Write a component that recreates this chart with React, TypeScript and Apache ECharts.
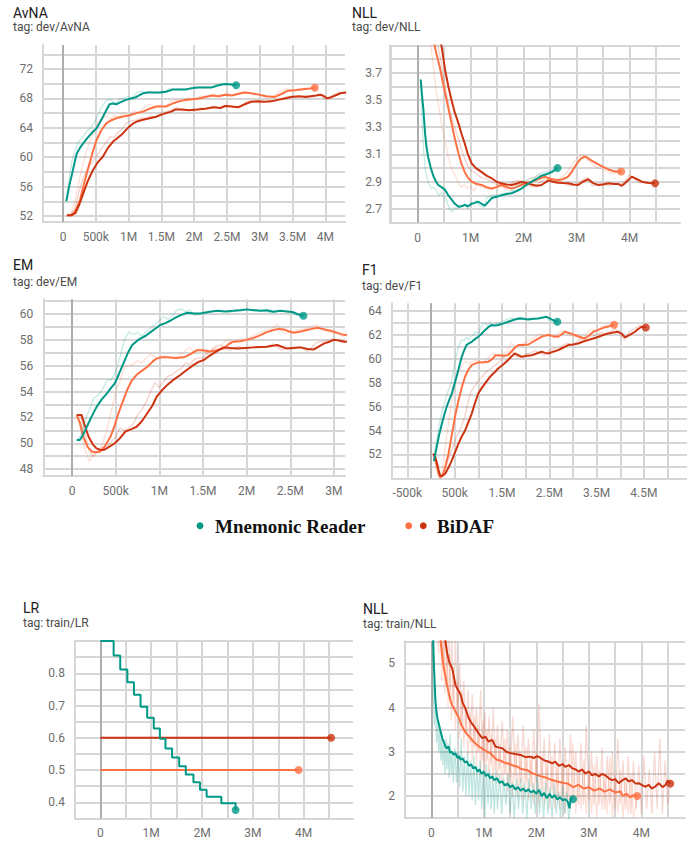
import React, { useEffect, useRef } from 'react';
import * as echarts from 'echarts';

const C_TEAL = '#009988';
const C_ORANGE = '#ff7043';
const C_RED = '#cc3311';

// ---------- AvNA (dev) ----------
const avnaTealSmooth = [[0.05,54.0],[0.1,56.3],[0.14,57.8],[0.18,59.4],[0.21,60.5],[0.26,61.3],[0.31,61.9],[0.36,62.5],[0.41,63.0],[0.46,63.5],[0.51,63.9],[0.56,64.7],[0.61,65.5],[0.66,66.4],[0.71,67.2],[0.76,67.3],[0.81,67.2],[0.88,67.5],[0.96,67.8],[1.04,68.0],[1.12,68.2],[1.18,68.5],[1.22,68.7],[1.3,68.8],[1.37,68.8],[1.47,68.8],[1.57,68.9],[1.67,69.2],[1.77,69.2],[1.87,69.2],[1.97,69.4],[2.07,69.5],[2.17,69.5],[2.27,69.5],[2.37,69.8],[2.47,69.95],[2.56,69.9],[2.64,69.8]];
const avnaTealRaw = [[0.05,54.0],[0.1,57.6],[0.14,59.6],[0.18,60.8],[0.22,61.8],[0.27,62.5],[0.32,63.0],[0.37,63.6],[0.42,64.0],[0.47,64.6],[0.52,65.5],[0.57,66.5],[0.62,67.2],[0.67,67.8],[0.72,67.9],[0.77,67.5],[0.82,67.4],[0.87,68.0],[0.93,67.9],[0.99,68.3],[1.05,68.0],[1.1,68.6],[1.15,68.9],[1.2,69.0],[1.26,68.8],[1.32,69.0],[1.4,68.7],[1.48,68.9],[1.56,69.0],[1.64,69.4],[1.72,69.2],[1.8,69.3],[1.9,69.2],[2.0,69.6],[2.1,69.5],[2.2,69.6],[2.3,69.5],[2.4,70.0],[2.5,70.0],[2.58,69.9],[2.64,69.8]];
const avnaOrangeSmooth = [[0.06,52.1],[0.14,52.1],[0.2,52.9],[0.26,54.2],[0.32,56.4],[0.39,58.7],[0.45,60.6],[0.51,62.3],[0.58,63.6],[0.66,64.6],[0.73,65.0],[0.81,65.3],[0.9,65.5],[1.02,65.7],[1.12,66.0],[1.22,66.2],[1.32,66.6],[1.42,66.9],[1.5,66.9],[1.57,66.9],[1.67,67.3],[1.77,67.6],[1.87,67.8],[1.97,67.9],[2.07,68.0],[2.17,68.2],[2.27,68.4],[2.37,68.3],[2.47,68.5],[2.57,68.4],[2.67,68.6],[2.77,68.8],[2.87,68.7],[2.97,68.55],[3.1,68.3],[3.23,68.2],[3.33,68.6],[3.43,69.05],[3.53,69.1],[3.63,69.2],[3.73,69.3],[3.84,69.46]];
const avnaOrangeRaw = [[0.06,52.1],[0.12,52.3],[0.18,54.0],[0.24,56.5],[0.3,59.0],[0.36,60.8],[0.42,62.6],[0.48,63.5],[0.54,64.8],[0.6,65.2],[0.66,65.6],[0.72,65.2],[0.78,65.7],[0.85,65.5],[0.92,66.0],[1.0,65.6],[1.08,66.3],[1.16,66.1],[1.24,66.8],[1.32,67.2],[1.4,66.8],[1.48,67.1],[1.56,66.8],[1.64,67.6],[1.72,67.8],[1.8,67.7],[1.9,68.1],[2.0,67.9],[2.1,68.3],[2.2,68.3],[2.3,68.6],[2.4,68.2],[2.5,68.7],[2.6,68.4],[2.7,68.9],[2.8,68.9],[2.9,68.5],[3.0,68.5],[3.1,68.1],[3.2,68.3],[3.3,68.9],[3.4,69.3],[3.5,69.0],[3.6,69.3],[3.7,69.4],[3.84,69.5]];
const avnaRedSmooth = [[0.06,52.1],[0.12,52.1],[0.19,52.4],[0.25,53.6],[0.31,55.1],[0.38,56.8],[0.46,58.3],[0.53,59.3],[0.61,60.1],[0.68,61.2],[0.76,62.1],[0.83,62.6],[0.91,63.2],[0.99,64.0],[1.07,64.6],[1.14,64.9],[1.22,65.1],[1.32,65.3],[1.42,65.5],[1.5,65.8],[1.57,66.0],[1.65,66.2],[1.72,66.5],[1.82,66.5],[1.92,66.4],[2.05,66.5],[2.17,66.6],[2.3,66.8],[2.4,66.7],[2.47,66.97],[2.57,66.9],[2.67,66.8],[2.77,67.2],[2.87,67.55],[2.97,67.6],[3.08,67.55],[3.18,67.6],[3.28,67.8],[3.38,68.0],[3.48,68.2],[3.6,68.3],[3.7,68.2],[3.78,68.3],[3.86,68.4],[3.93,68.5],[3.98,68.3],[4.03,68.0],[4.1,68.2],[4.18,68.5],[4.23,68.7],[4.3,68.8],[4.4,68.9],[4.5,69.0]];
const avnaRedRaw = [[0.06,52.1],[0.12,52.2],[0.18,53.0],[0.24,55.2],[0.3,57.0],[0.36,58.2],[0.42,59.0],[0.48,59.8],[0.54,60.5],[0.6,61.4],[0.66,62.0],[0.72,62.8],[0.78,62.7],[0.84,63.4],[0.9,63.8],[0.96,64.6],[1.02,64.9],[1.1,65.0],[1.18,65.3],[1.26,65.3],[1.34,65.6],[1.42,65.4],[1.5,66.1],[1.58,66.2],[1.66,66.5],[1.74,66.8],[1.82,66.3],[1.9,66.5],[2.0,66.3],[2.1,66.7],[2.2,66.6],[2.3,67.0],[2.4,66.6],[2.5,67.1],[2.6,66.8],[2.7,66.9],[2.8,67.6],[2.9,67.7],[3.0,67.4],[3.1,67.6],[3.2,67.7],[3.3,67.9],[3.4,68.2],[3.5,68.3],[3.6,68.2],[3.7,68.4],[3.8,68.2],[3.9,68.6],[4.0,67.9],[4.1,68.4],[4.2,68.8],[4.3,68.7],[4.4,69.0],[4.5,69.0]];

// ---------- NLL (dev) ----------
const nlldTealSmooth = [[0.06,3.65],[0.08,3.55],[0.11,3.43],[0.14,3.26],[0.17,3.15],[0.2,3.08],[0.25,3.0],[0.3,2.94],[0.35,2.9],[0.39,2.876],[0.45,2.86],[0.52,2.84],[0.58,2.8],[0.64,2.77],[0.7,2.74],[0.77,2.717],[0.83,2.72],[0.89,2.73],[0.95,2.72],[1.02,2.737],[1.08,2.745],[1.14,2.754],[1.2,2.74],[1.27,2.724],[1.33,2.75],[1.4,2.78],[1.49,2.79],[1.58,2.8],[1.68,2.81],[1.77,2.815],[1.86,2.83],[1.96,2.85],[2.05,2.875],[2.15,2.9],[2.24,2.92],[2.34,2.944],[2.43,2.955],[2.53,2.97],[2.6,2.99],[2.64,3.0]];
const nlldTealRaw = [[0.06,3.65],[0.09,3.3],[0.12,3.1],[0.15,2.98],[0.18,2.92],[0.22,2.88],[0.26,2.85],[0.3,2.86],[0.35,2.84],[0.4,2.8],[0.45,2.82],[0.5,2.79],[0.55,2.76],[0.6,2.7],[0.65,2.68],[0.7,2.71],[0.75,2.7],[0.8,2.73],[0.85,2.72],[0.9,2.74],[0.95,2.7],[1.0,2.75],[1.05,2.74],[1.1,2.76],[1.15,2.73],[1.2,2.72],[1.25,2.71],[1.3,2.78],[1.35,2.79],[1.4,2.8],[1.5,2.8],[1.6,2.81],[1.7,2.82],[1.8,2.84],[1.9,2.87],[2.0,2.9],[2.1,2.92],[2.2,2.93],[2.3,2.96],[2.4,2.97],[2.5,2.98],[2.64,3.0]];
const nlldOrangeSmooth = [[0.1,4.8],[0.2,4.3],[0.28,4.0],[0.33,3.88],[0.38,3.8],[0.42,3.74],[0.47,3.64],[0.52,3.55],[0.58,3.44],[0.64,3.33],[0.7,3.22],[0.77,3.11],[0.83,3.03],[0.89,2.97],[0.95,2.93],[1.02,2.9],[1.1,2.885],[1.21,2.876],[1.3,2.86],[1.4,2.85],[1.49,2.86],[1.58,2.876],[1.68,2.86],[1.77,2.85],[1.86,2.86],[1.96,2.876],[2.05,2.89],[2.15,2.9],[2.28,2.92],[2.4,2.937],[2.52,2.92],[2.65,2.91],[2.75,2.92],[2.84,2.937],[2.92,2.98],[3.0,3.03],[3.08,3.07],[3.17,3.085],[3.26,3.06],[3.35,3.04],[3.47,3.015],[3.6,2.99],[3.72,2.975],[3.84,2.975]];
const nlldOrangeRaw = [[0.1,4.6],[0.2,4.1],[0.28,3.8],[0.34,3.6],[0.4,3.45],[0.46,3.3],[0.52,3.2],[0.58,3.08],[0.64,3.0],[0.7,2.95],[0.76,2.9],[0.82,2.86],[0.88,2.88],[0.94,2.85],[1.0,2.87],[1.06,2.83],[1.12,2.88],[1.2,2.86],[1.3,2.85],[1.4,2.84],[1.5,2.88],[1.6,2.86],[1.7,2.84],[1.8,2.87],[1.9,2.88],[2.0,2.89],[2.1,2.92],[2.2,2.93],[2.3,2.95],[2.4,2.93],[2.5,2.9],[2.6,2.91],[2.7,2.93],[2.8,2.96],[2.9,3.02],[3.0,3.07],[3.1,3.1],[3.2,3.06],[3.3,3.03],[3.4,3.0],[3.5,2.99],[3.6,2.97],[3.7,2.96],[3.84,2.975]];
const nlldRedSmooth = [[0.2,5.0],[0.3,4.4],[0.38,4.05],[0.45,3.9],[0.52,3.72],[0.58,3.6],[0.64,3.5],[0.7,3.41],[0.77,3.33],[0.83,3.25],[0.89,3.18],[0.95,3.1],[1.02,3.035],[1.1,3.0],[1.21,2.97],[1.3,2.945],[1.4,2.925],[1.49,2.9],[1.58,2.888],[1.68,2.88],[1.77,2.876],[1.86,2.885],[1.96,2.9],[2.05,2.89],[2.15,2.88],[2.25,2.87],[2.34,2.876],[2.41,2.895],[2.47,2.91],[2.56,2.9],[2.65,2.893],[2.75,2.89],[2.84,2.888],[2.94,2.88],[3.03,2.876],[3.12,2.9],[3.22,2.918],[3.31,2.89],[3.41,2.876],[3.5,2.88],[3.6,2.888],[3.7,2.883],[3.79,2.883],[3.85,2.87],[3.91,2.888],[3.97,2.91],[4.04,2.937],[4.13,2.92],[4.23,2.9],[4.35,2.89],[4.48,2.888]];
const nlldRedRaw = [[0.2,4.8],[0.3,4.2],[0.38,3.9],[0.46,3.75],[0.54,3.55],[0.62,3.4],[0.7,3.3],[0.78,3.2],[0.86,3.1],[0.94,3.02],[1.02,2.98],[1.1,2.96],[1.2,2.93],[1.3,2.92],[1.4,2.9],[1.5,2.88],[1.6,2.88],[1.7,2.86],[1.8,2.9],[1.9,2.91],[2.0,2.88],[2.1,2.87],[2.2,2.86],[2.3,2.89],[2.4,2.92],[2.5,2.9],[2.6,2.89],[2.7,2.9],[2.8,2.88],[2.9,2.87],[3.0,2.88],[3.1,2.91],[3.2,2.93],[3.3,2.87],[3.4,2.88],[3.5,2.89],[3.6,2.87],[3.7,2.89],[3.8,2.88],[3.9,2.9],[4.0,2.95],[4.1,2.92],[4.2,2.89],[4.3,2.9],[4.48,2.888]];

// ---------- EM (dev) ----------
const emTealSmooth = [[0.054,50.25],[0.09,50.25],[0.13,50.7],[0.17,51.28],[0.22,52.0],[0.28,52.8],[0.34,53.4],[0.4,53.86],[0.45,54.3],[0.49,54.63],[0.54,55.4],[0.59,56.2],[0.64,57.0],[0.69,57.6],[0.74,57.9],[0.78,58.1],[0.84,58.3],[0.9,58.6],[0.96,58.9],[1.01,59.15],[1.07,59.3],[1.13,59.5],[1.18,59.7],[1.24,59.9],[1.32,60.1],[1.4,60.05],[1.47,60.05],[1.56,60.15],[1.66,60.25],[1.75,60.2],[1.85,60.25],[1.93,60.3],[2.0,60.36],[2.08,60.3],[2.16,60.25],[2.23,60.3],[2.31,60.18],[2.38,60.25],[2.46,60.2],[2.53,60.15],[2.58,60.0],[2.65,59.87]];
const emTealRaw = [[0.054,50.2],[0.1,50.6],[0.15,51.8],[0.2,52.6],[0.25,53.5],[0.3,53.7],[0.35,54.2],[0.4,54.9],[0.45,54.9],[0.5,55.5],[0.55,56.7],[0.6,58.0],[0.65,58.6],[0.7,58.4],[0.75,58.6],[0.8,58.3],[0.85,58.6],[0.9,58.9],[0.95,59.2],[1.0,59.5],[1.05,59.8],[1.1,59.6],[1.15,59.9],[1.2,60.3],[1.25,60.4],[1.3,60.2],[1.35,60.3],[1.4,59.9],[1.5,60.0],[1.6,60.2],[1.7,60.3],[1.8,60.1],[1.9,60.35],[2.0,60.3],[2.1,60.35],[2.2,60.2],[2.3,60.1],[2.4,60.3],[2.5,60.1],[2.58,59.9],[2.65,59.85]];
const emOrangeSmooth = [[0.054,52.18],[0.09,51.6],[0.13,50.5],[0.18,49.7],[0.23,49.34],[0.28,49.3],[0.32,49.34],[0.38,49.8],[0.44,50.5],[0.49,51.4],[0.53,52.3],[0.58,53.2],[0.63,54.1],[0.68,54.8],[0.74,55.3],[0.8,55.6],[0.86,55.9],[0.92,56.3],[0.97,56.57],[1.03,56.65],[1.09,56.65],[1.18,56.6],[1.28,56.65],[1.36,56.9],[1.43,57.2],[1.5,57.2],[1.58,57.1],[1.66,57.2],[1.74,57.35],[1.8,57.7],[1.85,57.86],[1.93,57.9],[2.0,58.0],[2.08,58.15],[2.16,58.37],[2.23,58.6],[2.31,58.76],[2.37,58.85],[2.43,58.8],[2.49,58.65],[2.54,58.55],[2.62,58.65],[2.69,58.76],[2.75,58.85],[2.81,58.94],[2.87,58.85],[2.92,58.76],[2.97,58.7],[3.0,58.63],[3.06,58.5],[3.12,58.37],[3.3,58.5],[3.5,58.8],[3.7,59.0],[3.84,59.1]];
const emOrangeRaw = [[0.054,52.2],[0.1,51.0],[0.15,49.5],[0.2,48.6],[0.25,49.2],[0.3,49.4],[0.35,50.0],[0.4,51.0],[0.45,52.5],[0.5,54.0],[0.55,54.8],[0.6,55.9],[0.65,56.0],[0.7,56.1],[0.75,56.4],[0.8,56.2],[0.85,56.6],[0.9,56.9],[0.95,56.7],[1.0,56.5],[1.05,56.8],[1.1,56.6],[1.15,56.7],[1.2,56.5],[1.25,56.9],[1.3,57.2],[1.35,57.4],[1.4,57.0],[1.45,57.3],[1.5,57.1],[1.55,56.9],[1.6,57.3],[1.65,57.4],[1.7,57.3],[1.75,57.9],[1.8,58.0],[1.85,57.8],[1.9,58.0],[2.0,58.1],[2.1,58.4],[2.2,58.7],[2.3,58.9],[2.35,59.2],[2.4,58.7],[2.45,58.5],[2.5,58.6],[2.6,58.8],[2.7,58.9],[2.8,59.2],[2.85,58.8],[2.9,58.7],[3.0,58.5],[3.1,58.3],[3.3,58.6],[3.5,58.9],[3.7,59.0],[3.84,59.1]];
const emRedSmooth = [[0.054,52.18],[0.11,52.18],[0.15,51.3],[0.19,50.5],[0.24,49.9],[0.28,49.6],[0.32,49.5],[0.36,49.47],[0.42,49.7],[0.49,50.0],[0.55,50.4],[0.61,50.9],[0.68,51.1],[0.74,51.28],[0.8,51.7],[0.86,52.3],[0.92,52.9],[0.97,53.6],[1.03,54.1],[1.09,54.5],[1.16,54.9],[1.24,55.28],[1.31,55.65],[1.39,56.05],[1.45,56.3],[1.51,56.44],[1.56,56.7],[1.62,56.95],[1.68,57.2],[1.74,57.42],[1.81,57.38],[1.89,57.34],[1.98,57.38],[2.08,57.42],[2.16,57.45],[2.23,57.47],[2.3,57.55],[2.35,57.6],[2.41,57.45],[2.46,57.34],[2.54,57.38],[2.62,57.42],[2.7,57.3],[2.77,57.26],[2.83,57.5],[2.89,57.73],[2.95,57.86],[3.0,58.0],[3.06,57.95],[3.12,57.86],[3.4,58.0],[3.8,58.2],[4.2,58.3],[4.5,58.4]];
const emRedRaw = [[0.054,52.2],[0.1,52.1],[0.15,50.7],[0.2,49.3],[0.25,49.0],[0.3,49.5],[0.35,49.7],[0.4,49.8],[0.45,50.1],[0.5,50.5],[0.55,51.2],[0.6,51.0],[0.65,51.2],[0.7,51.5],[0.75,52.2],[0.8,52.6],[0.85,53.2],[0.9,54.0],[0.95,54.7],[1.0,54.3],[1.05,54.8],[1.1,55.2],[1.15,55.3],[1.2,55.6],[1.25,55.8],[1.3,56.2],[1.35,56.1],[1.4,56.5],[1.45,56.6],[1.5,56.6],[1.55,57.0],[1.6,57.2],[1.65,57.5],[1.7,57.6],[1.75,57.3],[1.8,57.2],[1.9,57.5],[2.0,57.3],[2.1,57.5],[2.2,57.4],[2.3,57.7],[2.4,57.2],[2.5,57.4],[2.6,57.5],[2.7,57.1],[2.8,57.8],[2.9,57.9],[3.0,58.1],[3.1,57.8],[3.4,58.0],[3.8,58.2],[4.2,58.3],[4.5,58.4]];

// ---------- F1 (dev) ----------
const f1TealSmooth = [[0.063,51.44],[0.09,52.0],[0.12,52.6],[0.17,53.6],[0.23,54.57],[0.28,55.3],[0.33,55.97],[0.38,56.5],[0.44,57.1],[0.49,57.8],[0.54,58.5],[0.6,59.4],[0.65,60.17],[0.7,60.7],[0.75,61.15],[0.8,61.3],[0.86,61.43],[0.93,61.65],[1.0,61.85],[1.07,62.1],[1.14,62.4],[1.21,62.65],[1.28,62.83],[1.35,62.8],[1.42,62.83],[1.52,62.95],[1.63,63.1],[1.74,63.25],[1.85,63.38],[1.95,63.35],[2.06,63.3],[2.16,63.35],[2.27,63.38],[2.36,63.45],[2.44,63.52],[2.5,63.4],[2.55,63.3],[2.61,63.2],[2.67,63.1]];
const f1TealRaw = [[0.063,51.5],[0.1,52.8],[0.15,54.0],[0.2,55.0],[0.25,55.8],[0.3,56.5],[0.35,57.2],[0.4,57.6],[0.45,58.4],[0.5,59.6],[0.55,60.5],[0.6,61.2],[0.65,61.6],[0.7,61.5],[0.75,61.8],[0.8,61.6],[0.85,61.9],[0.9,62.0],[0.95,62.3],[1.0,62.1],[1.05,62.6],[1.1,62.9],[1.15,63.0],[1.2,62.8],[1.25,63.0],[1.3,62.7],[1.4,63.0],[1.5,63.1],[1.6,63.3],[1.7,63.4],[1.8,63.3],[1.9,63.5],[2.0,63.3],[2.1,63.4],[2.2,63.3],[2.3,63.5],[2.4,63.6],[2.5,63.2],[2.6,63.1],[2.67,63.1]];
const f1OrangeSmooth = [[0.05,52.06],[0.09,51.6],[0.12,51.2],[0.16,50.5],[0.19,50.1],[0.22,50.15],[0.26,50.4],[0.31,51.1],[0.37,52.06],[0.42,53.2],[0.47,54.3],[0.52,55.4],[0.58,56.5],[0.65,57.6],[0.72,58.5],[0.79,59.1],[0.86,59.47],[0.93,59.6],[1.0,59.7],[1.1,59.72],[1.21,59.75],[1.3,60.0],[1.36,60.3],[1.42,60.3],[1.52,60.25],[1.63,60.3],[1.72,60.7],[1.8,61.05],[1.85,61.15],[1.95,61.15],[2.06,61.2],[2.16,61.45],[2.27,61.7],[2.37,61.9],[2.48,62.0],[2.58,61.9],[2.69,61.85],[2.76,62.05],[2.83,62.27],[2.93,62.15],[3.04,62.0],[3.14,61.85],[3.25,61.7],[3.34,61.95],[3.43,62.27],[3.52,62.4],[3.61,62.55],[3.68,62.65],[3.75,62.7],[3.82,62.8],[3.87,62.85]];
const f1OrangeRaw = [[0.05,52.1],[0.1,51.0],[0.15,50.2],[0.2,50.4],[0.25,51.0],[0.3,52.5],[0.35,54.0],[0.4,55.5],[0.45,56.8],[0.5,57.8],[0.55,58.6],[0.6,59.0],[0.65,59.4],[0.7,59.7],[0.75,59.8],[0.8,59.6],[0.9,59.8],[1.0,59.9],[1.1,59.6],[1.2,60.0],[1.3,60.5],[1.4,60.2],[1.5,60.4],[1.6,60.6],[1.7,61.3],[1.8,61.0],[1.9,61.2],[2.0,61.4],[2.1,61.6],[2.2,61.8],[2.3,62.1],[2.4,61.9],[2.5,62.1],[2.6,61.7],[2.7,62.2],[2.8,62.4],[2.9,62.0],[3.0,61.9],[3.1,61.8],[3.2,61.6],[3.3,62.2],[3.4,62.5],[3.5,62.3],[3.6,62.7],[3.7,62.8],[3.8,62.9],[3.87,62.9]];
const f1RedSmooth = [[0.05,52.06],[0.09,51.8],[0.12,51.36],[0.16,50.7],[0.19,50.24],[0.24,50.2],[0.3,50.38],[0.37,50.9],[0.44,51.5],[0.51,52.2],[0.58,52.9],[0.65,53.5],[0.72,54.0],[0.79,54.7],[0.86,55.4],[0.93,56.3],[1.0,57.1],[1.07,57.55],[1.14,57.93],[1.21,58.3],[1.28,58.63],[1.35,58.9],[1.42,59.19],[1.52,59.5],[1.63,59.9],[1.7,60.2],[1.77,60.45],[1.85,60.3],[1.92,60.17],[2.02,60.25],[2.13,60.3],[2.23,60.45],[2.34,60.59],[2.41,60.5],[2.48,60.45],[2.58,60.6],[2.69,60.73],[2.8,60.95],[2.9,61.15],[3.0,61.2],[3.11,61.29],[3.22,61.45],[3.32,61.57],[3.43,61.7],[3.54,61.85],[3.64,62.0],[3.75,62.13],[3.85,62.2],[3.96,62.27],[4.03,62.1],[4.1,61.8],[4.2,62.0],[4.31,62.27],[4.38,62.5],[4.45,62.69],[4.54,62.63]];
const f1RedRaw = [[0.05,52.1],[0.1,51.2],[0.15,50.4],[0.2,50.0],[0.25,50.3],[0.3,50.8],[0.35,51.4],[0.4,52.0],[0.45,52.5],[0.5,53.0],[0.55,53.6],[0.6,53.9],[0.65,54.4],[0.7,55.0],[0.75,55.8],[0.8,56.6],[0.85,57.3],[0.9,57.6],[0.95,57.8],[1.0,58.2],[1.1,58.6],[1.2,59.0],[1.3,59.3],[1.4,59.6],[1.5,60.0],[1.6,60.4],[1.7,60.7],[1.8,60.2],[1.9,60.1],[2.0,60.4],[2.1,60.5],[2.2,60.7],[2.3,60.5],[2.4,60.3],[2.5,60.7],[2.6,60.9],[2.7,60.8],[2.8,61.2],[2.9,61.3],[3.0,61.1],[3.1,61.5],[3.2,61.7],[3.3,61.6],[3.4,61.9],[3.5,62.0],[3.6,62.2],[3.7,62.1],[3.8,62.3],[3.9,62.5],[4.0,62.0],[4.1,61.6],[4.2,62.3],[4.3,62.5],[4.4,62.8],[4.54,62.6]];

// ---------- LR (train) ----------
const lrTeal = [[0,0.9],[0.26,0.855],[0.39,0.812],[0.53,0.772],[0.66,0.733],[0.79,0.696],[0.92,0.662],[1.05,0.629],[1.17,0.597],[1.28,0.567],[1.41,0.539],[1.55,0.512],[1.68,0.486],[1.83,0.462],[1.96,0.439],[2.09,0.417],[2.38,0.397],[2.66,0.376]];
const lrOrange = [[0,0.5],[3.9,0.5]];
const lrRed = [[0,0.6],[4.54,0.6]];

// ---------- NLL (train) ----------
const nlltTealSmooth = [[0.03,5.8],[0.05,5.0],[0.07,4.4],[0.08,4.14],[0.1,3.9],[0.12,3.75],[0.15,3.6],[0.18,3.45],[0.21,3.3],[0.24,3.22],[0.27,3.12],[0.3,3.08],[0.33,3.12],[0.36,2.98],[0.39,3.0],[0.43,2.93],[0.46,2.97],[0.5,2.86],[0.53,2.9],[0.56,2.82],[0.6,2.85],[0.64,2.76],[0.68,2.78],[0.72,2.68],[0.76,2.72],[0.8,2.62],[0.84,2.66],[0.88,2.55],[0.92,2.6],[0.96,2.5],[1.0,2.55],[1.04,2.45],[1.08,2.5],[1.12,2.4],[1.16,2.44],[1.2,2.36],[1.25,2.4],[1.3,2.3],[1.35,2.33],[1.4,2.24],[1.45,2.28],[1.5,2.2],[1.55,2.24],[1.6,2.15],[1.65,2.2],[1.7,2.12],[1.75,2.17],[1.8,2.1],[1.85,2.15],[1.9,2.08],[1.95,2.12],[2.0,2.05],[2.05,2.14],[2.1,2.0],[2.15,2.07],[2.2,1.95],[2.25,2.05],[2.3,1.96],[2.35,2.02],[2.4,1.92],[2.45,1.97],[2.5,1.9],[2.55,1.93],[2.6,1.87],[2.63,1.72],[2.66,1.95],[2.7,1.93]];
const nlltTealRaw = [[0.02,5.8],[0.04,4.3],[0.06,3.6],[0.08,4.0],[0.1,3.2],[0.12,3.7],[0.14,3.0],[0.16,3.5],[0.18,2.8],[0.2,3.4],[0.22,2.7],[0.24,3.3],[0.26,2.5],[0.28,3.3],[0.3,2.6],[0.32,3.2],[0.34,2.4],[0.36,3.4],[0.38,2.5],[0.4,3.0],[0.42,2.3],[0.45,3.1],[0.48,2.3],[0.51,3.0],[0.54,2.2],[0.57,3.3],[0.6,2.1],[0.63,2.9],[0.66,2.0],[0.69,3.0],[0.72,2.0],[0.75,2.8],[0.78,1.9],[0.81,2.9],[0.84,1.8],[0.87,2.7],[0.9,1.9],[0.93,2.8],[0.96,1.7],[0.99,2.6],[1.02,1.5],[1.05,2.7],[1.08,1.8],[1.11,2.6],[1.14,1.7],[1.17,2.5],[1.2,1.6],[1.23,2.6],[1.26,1.7],[1.3,2.5],[1.34,1.6],[1.38,2.4],[1.42,1.8],[1.46,2.5],[1.5,1.6],[1.54,2.3],[1.58,1.5],[1.62,2.4],[1.66,1.7],[1.7,2.4],[1.74,1.6],[1.78,2.3],[1.82,1.5],[1.86,2.4],[1.9,1.7],[1.94,2.3],[1.98,1.6],[2.02,2.5],[2.06,1.6],[2.1,2.2],[2.14,1.5],[2.18,2.3],[2.22,1.6],[2.26,2.2],[2.3,1.5],[2.34,2.3],[2.38,1.6],[2.42,2.1],[2.46,1.5],[2.5,2.2],[2.54,1.6],[2.58,2.1],[2.62,1.4],[2.66,2.0],[2.7,1.9]];
const nlltOrangeSmooth = [[0.15,5.9],[0.18,5.5],[0.21,5.15],[0.24,4.89],[0.27,4.7],[0.3,4.51],[0.34,4.3],[0.37,4.14],[0.4,4.05],[0.43,3.98],[0.48,3.87],[0.53,3.76],[0.57,3.62],[0.62,3.5],[0.68,3.4],[0.75,3.31],[0.81,3.22],[0.87,3.16],[0.93,3.1],[1.0,3.05],[1.06,3.0],[1.13,2.97],[1.19,2.88],[1.25,2.82],[1.32,2.8],[1.38,2.76],[1.44,2.74],[1.5,2.72],[1.57,2.68],[1.63,2.67],[1.7,2.62],[1.76,2.6],[1.82,2.59],[1.9,2.53],[1.96,2.5],[2.01,2.48],[2.08,2.45],[2.14,2.43],[2.2,2.41],[2.3,2.36],[2.4,2.33],[2.5,2.3],[2.6,2.28],[2.7,2.2],[2.8,2.25],[2.9,2.17],[3.0,2.2],[3.1,2.12],[3.2,2.17],[3.3,2.1],[3.4,2.15],[3.5,2.08],[3.6,2.1],[3.65,2.0],[3.72,2.05],[3.78,1.97],[3.85,2.02],[3.92,2.0]];
const nlltOrangeRaw = [[0.1,6.0],[0.14,5.2],[0.17,6.0],[0.2,4.6],[0.23,5.8],[0.26,4.3],[0.29,5.5],[0.32,4.0],[0.35,5.2],[0.38,3.7],[0.42,4.8],[0.46,3.5],[0.5,4.6],[0.54,3.3],[0.58,4.4],[0.62,3.1],[0.66,4.0],[0.7,2.9],[0.74,3.9],[0.78,2.8],[0.82,3.8],[0.86,2.7],[0.9,3.6],[0.94,2.6],[0.98,3.7],[1.02,2.5],[1.06,3.5],[1.1,2.4],[1.14,3.4],[1.18,2.3],[1.22,3.3],[1.26,2.3],[1.3,3.2],[1.35,2.2],[1.4,3.3],[1.45,2.1],[1.5,3.1],[1.55,2.0],[1.6,3.2],[1.65,2.0],[1.7,3.0],[1.75,1.9],[1.8,3.1],[1.85,1.9],[1.9,2.9],[1.95,1.8],[2.0,3.0],[2.05,1.8],[2.1,2.9],[2.15,1.8],[2.2,2.8],[2.25,1.7],[2.3,2.9],[2.35,1.7],[2.4,2.7],[2.45,1.7],[2.5,2.8],[2.55,1.6],[2.6,2.7],[2.65,1.7],[2.7,3.2],[2.75,1.6],[2.8,2.6],[2.85,1.7],[2.9,2.8],[2.95,1.6],[3.0,2.6],[3.05,1.6],[3.1,2.7],[3.15,1.5],[3.2,2.6],[3.25,1.7],[3.3,2.5],[3.35,1.6],[3.4,2.9],[3.45,1.5],[3.5,2.5],[3.55,1.6],[3.6,2.6],[3.65,1.5],[3.7,2.4],[3.75,1.6],[3.8,2.5],[3.85,1.5],[3.92,2.0]];
const nlltRedSmooth = [[0.24,5.8],[0.27,5.5],[0.3,5.25],[0.34,5.04],[0.37,4.95],[0.4,4.89],[0.43,4.7],[0.46,4.51],[0.51,4.4],[0.56,4.29],[0.6,4.1],[0.65,3.98],[0.7,3.8],[0.75,3.68],[0.8,3.6],[0.84,3.53],[0.9,3.42],[0.97,3.31],[1.03,3.34],[1.09,3.23],[1.16,3.27],[1.22,3.12],[1.28,3.1],[1.35,3.08],[1.43,3.0],[1.51,2.97],[1.6,2.95],[1.7,2.93],[1.79,2.88],[1.89,2.89],[1.95,2.86],[2.02,2.9],[2.08,2.86],[2.16,2.8],[2.23,2.78],[2.3,2.74],[2.36,2.78],[2.43,2.68],[2.5,2.72],[2.55,2.66],[2.62,2.7],[2.68,2.63],[2.75,2.6],[2.81,2.55],[2.87,2.6],[2.93,2.51],[3.0,2.55],[3.06,2.47],[3.12,2.5],[3.19,2.44],[3.25,2.5],[3.31,2.47],[3.38,2.4],[3.44,2.36],[3.5,2.38],[3.57,2.29],[3.63,2.35],[3.7,2.4],[3.76,2.33],[3.82,2.36],[3.89,2.28],[3.95,2.29],[4.02,2.24],[4.08,2.21],[4.14,2.25],[4.2,2.17],[4.27,2.22],[4.33,2.29],[4.4,2.2],[4.46,2.25],[4.5,2.35],[4.55,2.28]];
const nlltRedRaw = [[0.2,6.0],[0.24,5.0],[0.27,6.0],[0.3,4.6],[0.33,5.9],[0.36,4.4],[0.39,5.7],[0.42,4.1],[0.46,5.6],[0.5,3.8],[0.54,5.0],[0.58,3.6],[0.62,4.6],[0.66,3.4],[0.7,4.4],[0.74,3.2],[0.78,4.3],[0.82,3.1],[0.86,4.0],[0.9,3.0],[0.94,4.4],[0.98,2.8],[1.02,3.9],[1.06,2.8],[1.1,3.8],[1.14,2.7],[1.18,4.0],[1.22,2.6],[1.26,3.6],[1.3,2.6],[1.35,3.7],[1.4,2.5],[1.45,3.5],[1.5,2.4],[1.55,3.8],[1.6,2.4],[1.65,3.4],[1.7,2.3],[1.75,3.6],[1.8,2.3],[1.85,3.3],[1.9,2.2],[1.95,3.5],[2.0,2.3],[2.05,4.1],[2.1,2.2],[2.15,3.3],[2.2,2.1],[2.25,3.4],[2.3,2.1],[2.35,3.2],[2.4,2.0],[2.45,3.3],[2.5,2.0],[2.55,3.1],[2.6,1.9],[2.65,3.4],[2.7,1.9],[2.75,3.0],[2.8,1.8],[2.85,3.2],[2.9,1.8],[2.95,3.6],[3.0,1.9],[3.05,3.0],[3.1,1.8],[3.15,2.9],[3.2,1.8],[3.25,3.1],[3.3,1.7],[3.35,2.9],[3.4,1.8],[3.45,3.0],[3.5,1.7],[3.55,3.3],[3.6,1.8],[3.65,2.8],[3.7,1.7],[3.75,2.9],[3.8,1.6],[3.85,2.8],[3.9,1.7],[3.95,2.7],[4.0,1.6],[4.05,2.9],[4.1,1.7],[4.15,2.6],[4.2,1.6],[4.25,3.0],[4.3,1.7],[4.35,3.3],[4.4,1.6],[4.45,2.8],[4.5,1.8],[4.55,2.3]];

// ---------- tick / grid values ----------
const avnaXGrid = [0,0.5,1,1.5,2,2.5,3,3.5,4];
const avnaYGrid = [52,54,56,58,60,62,64,66,68,70,72,74];
const avnaYLabels = [52,56,60,64,68,72];
const nlldXGrid = [-0.5,0,0.5,1,1.5,2,2.5,3,3.5,4,4.5];
const nlldXLabels = [0,1,2,3,4];
const nlldYGrid = [2.6,2.7,2.8,2.9,3.0,3.1,3.2,3.3,3.4,3.5,3.6,3.7,3.8,3.9];
const nlldYLabels = [2.7,2.9,3.1,3.3,3.5,3.7];
const emXGrid = [0,0.5,1,1.5,2,2.5,3];
const emYGrid = [48,49,50,51,52,53,54,55,56,57,58,59,60,61];
const emYLabels = [48,50,52,54,56,58,60];
const f1XGrid = [-0.5,0,0.5,1,1.5,2,2.5,3,3.5,4,4.5,5];
const f1XLabels = [-0.5,0.5,1.5,2.5,3.5,4.5];
const f1YGrid = [50,51,52,53,54,55,56,57,58,59,60,61,62,63,64];
const f1YLabels = [52,54,56,58,60,62,64];
const lrXGrid = [-0.5,0,0.5,1,1.5,2,2.5,3,3.5,4,4.5];
const lrXLabels = [0,1,2,3,4];
const lrYGrid = [0.35,0.4,0.45,0.5,0.55,0.6,0.65,0.7,0.75,0.8,0.85,0.9];
const lrYLabels = [0.4,0.5,0.6,0.7,0.8];
const nlltXGrid = [-0.5,0,0.5,1,1.5,2,2.5,3,3.5,4,4.5];
const nlltXLabels = [0,1,2,3,4];
const nlltYGrid = [1.5,2,2.5,3,3.5,4,4.5,5,5.5];
const nlltYLabels = [2,3,4,5];

const fmtX = (v: number) => {
  if (Math.abs(v) < 1e-9) return '0';
  if (Math.abs(v) < 1) return `${Math.round(v * 1000)}k`;
  return `${parseFloat(v.toFixed(1))}M`;
};
const fmtInt = (v: number) => String(Math.round(v));
const fmt1 = (v: number) => v.toFixed(1);

const LABEL_COLOR = '#6e6e6e';
const GRID_COLOR = '#d6d6d6';

function axis(gi: number, min: number, max: number, labelVals: number[], fmt: (v: number) => string, margin: number) {
  return {
    type: 'value', gridIndex: gi, min, max,
    axisLine: { show: true, onZero: false, lineStyle: { color: GRID_COLOR, width: 2 } },
    axisTick: { show: false },
    axisLabel: { customValues: labelVals, formatter: fmt, color: LABEL_COLOR, fontSize: 12, fontFamily: 'Roboto', margin },
    splitLine: { show: false },
  };
}

type Run = { color: string; smooth: number[][]; raw?: number[][]; rawOpacity?: number; step?: boolean };

function panel(gi: number, xGrid: number[], yGrid: number[], orange: Run, red: Run, teal: Run) {
  const base = { xAxisIndex: gi, yAxisIndex: gi, silent: true };
  const out: any[] = [];
  const gridMark = {
    silent: true, symbol: ['none', 'none'], animation: false, label: { show: false }, z: 1,
    lineStyle: { color: GRID_COLOR, width: 2, type: 'solid', opacity: 1 },
    data: [...xGrid.map((v) => ({ xAxis: v })), ...yGrid.map((v) => ({ yAxis: v }))],
  };
  const zeroMark = {
    silent: true, symbol: ['none', 'none'], animation: false, label: { show: false }, z: 1.5,
    lineStyle: { color: '#a3a3a3', width: 1.6, type: 'solid' },
    data: [{ xAxis: 0 }],
  };
  const rawS = (r: Run, z: number) => r.raw ? [{ ...base, type: 'line', data: r.raw, symbol: 'none', z, lineStyle: { color: r.color, width: 1.3, opacity: r.rawOpacity ?? 0.22 } }] : [];
  const smS = (r: Run, z: number) => ({ ...base, type: 'line', data: r.smooth, symbol: 'none', z, step: r.step ? 'end' : undefined, lineStyle: { color: r.color, width: 2 } });
  const dot = (r: Run) => ({ ...base, type: 'scatter', data: [r.smooth[r.smooth.length - 1]], symbol: 'circle', symbolSize: 8, z: 10, itemStyle: { color: r.color } });
  out.push(...rawS(orange, 2), ...rawS(red, 2));
  out.push(smS(orange, 3), smS(red, 3));
  out.push(...rawS(teal, 4));
  out.push(smS(teal, 5));
  out.push(dot(orange), dot(red), dot(teal));
  // attach the grid and the zero line to series that have data
  out[0].markLine = gridMark;
  out[1].markLine = zeroMark;
  return out;
}

const titles = [
  { t: 'AvNA', s: 'tag: dev/AvNA', x: 13, y: 12.5, ys: 27 },
  { t: 'NLL', s: 'tag: dev/NLL', x: 352, y: 12.5, ys: 27 },
  { t: 'EM', s: 'tag: dev/EM', x: 13, y: 265, ys: 281.5 },
  { t: 'F1', s: 'tag: dev/F1', x: 362, y: 270, ys: 285.5 },
  { t: 'LR', s: 'tag: train/LR', x: 23, y: 608, ys: 623 },
  { t: 'NLL', s: 'tag: train/NLL', x: 363, y: 609, ys: 624 },
];

export default function App() {
  const ref = useRef<HTMLDivElement>(null);
  useEffect(() => {
    if (!ref.current) return;
    const chart = echarts.init(ref.current, undefined, { renderer: 'svg' });
    const graphic: any[] = [];
    titles.forEach((t) => {
      graphic.push({ type: 'text', x: t.x, y: t.y, style: { text: t.t, fill: '#212121', font: '14px Roboto', textVerticalAlign: 'middle', verticalAlign: 'middle' } });
      graphic.push({ type: 'text', x: t.x, y: t.ys, style: { text: t.s, fill: '#4a4a4a', font: '12px Roboto', textVerticalAlign: 'middle', verticalAlign: 'middle' } });
    });
    // legend
    graphic.push({ type: 'circle', shape: { cx: 200, cy: 525.7, r: 3.4 }, style: { fill: C_TEAL } });
    graphic.push({ type: 'text', x: 215, y: 526, style: { text: 'Mnemonic Reader', fill: '#111', font: 'bold 19px "Liberation Serif", "Times New Roman", serif', verticalAlign: 'middle', textVerticalAlign: 'middle' } });
    graphic.push({ type: 'circle', shape: { cx: 408.7, cy: 525.7, r: 3.4 }, style: { fill: C_ORANGE } });
    graphic.push({ type: 'circle', shape: { cx: 423.3, cy: 525.7, r: 3.4 }, style: { fill: C_RED } });
    graphic.push({ type: 'text', x: 437, y: 526, style: { text: 'BiDAF', fill: '#111', font: 'bold 19px "Liberation Serif", "Times New Roman", serif', verticalAlign: 'middle', textVerticalAlign: 'middle' } });

    const option: any = {
      animation: false,
      backgroundColor: '#ffffff',
      grid: [
        { left: 43, top: 45, width: 302, height: 177 },
        { left: 390, top: 45.4, width: 290, height: 177.2 },
        { left: 43.3, top: 299.3, width: 301.7, height: 176.4 },
        { left: 391.7, top: 303.3, width: 295.3, height: 175 },
        { left: 75, top: 641, width: 278, height: 177.4 },
        { left: 405, top: 641.3, width: 280, height: 176.8 },
      ],
      xAxis: [
        axis(0, -0.305, 4.3, avnaXGrid, fmtX, 9),
        axis(1, -0.52, 4.95, nlldXLabels, fmtX, 9),
        axis(2, -0.329, 3.127, emXGrid, fmtX, 9),
        axis(3, -0.83, 5.41, f1XLabels, fmtX, 9),
        axis(4, -0.5, 4.97, lrXLabels, fmtX, 9),
        axis(5, -0.5, 4.83, nlltXLabels, fmtX, 9),
      ],
      yAxis: [
        axis(0, 51.18, 75.27, avnaYLabels, fmtInt, 10),
        axis(1, 2.6, 3.9, nlldYLabels, fmt1, 8),
        axis(2, 47.49, 61.14, emYLabels, fmtInt, 10),
        axis(3, 50, 64.65, f1YLabels, fmtInt, 10),
        axis(4, 0.35, 0.9, lrYLabels, fmt1, 10),
        axis(5, 1.5, 5.5, nlltYLabels, fmtInt, 10),
      ],
      series: [
        ...panel(0, avnaXGrid, avnaYGrid, { color: C_ORANGE, smooth: avnaOrangeSmooth, raw: avnaOrangeRaw }, { color: C_RED, smooth: avnaRedSmooth, raw: avnaRedRaw }, { color: C_TEAL, smooth: avnaTealSmooth, raw: avnaTealRaw }),
        ...panel(1, nlldXGrid, nlldYGrid, { color: C_ORANGE, smooth: nlldOrangeSmooth, raw: nlldOrangeRaw }, { color: C_RED, smooth: nlldRedSmooth, raw: nlldRedRaw }, { color: C_TEAL, smooth: nlldTealSmooth, raw: nlldTealRaw }),
        ...panel(2, emXGrid, emYGrid, { color: C_ORANGE, smooth: emOrangeSmooth, raw: emOrangeRaw }, { color: C_RED, smooth: emRedSmooth, raw: emRedRaw }, { color: C_TEAL, smooth: emTealSmooth, raw: emTealRaw }),
        ...panel(3, f1XGrid, f1YGrid, { color: C_ORANGE, smooth: f1OrangeSmooth, raw: f1OrangeRaw }, { color: C_RED, smooth: f1RedSmooth, raw: f1RedRaw }, { color: C_TEAL, smooth: f1TealSmooth, raw: f1TealRaw }),
        ...panel(4, lrXGrid, lrYGrid, { color: C_ORANGE, smooth: lrOrange }, { color: C_RED, smooth: lrRed }, { color: C_TEAL, smooth: lrTeal, step: true }),
        ...panel(5, nlltXGrid, nlltYGrid, { color: C_ORANGE, smooth: nlltOrangeSmooth, raw: nlltOrangeRaw, rawOpacity: 0.22 }, { color: C_RED, smooth: nlltRedSmooth, raw: nlltRedRaw, rawOpacity: 0.18 }, { color: C_TEAL, smooth: nlltTealSmooth, raw: nlltTealRaw, rawOpacity: 0.25 }),
      ],
      graphic,
    };
    chart.setOption(option);
    return () => chart.dispose();
  }, []);
  return <div ref={ref} style={{ position: 'absolute', left: 0, top: 0, width: 687, height: 841, background: '#fff' }} />;
}
